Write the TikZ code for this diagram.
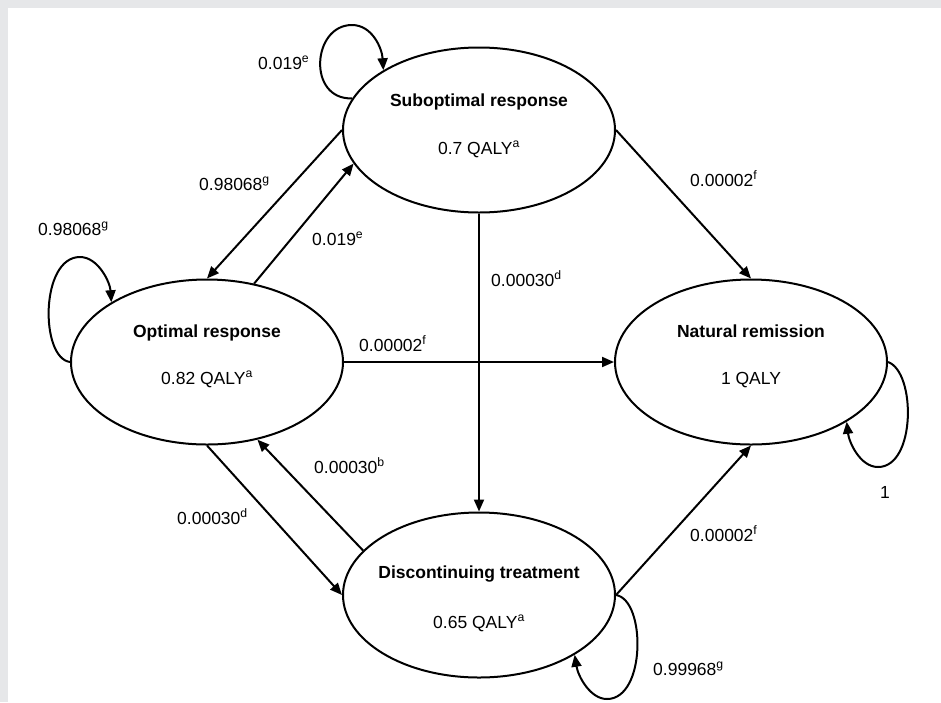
\documentclass[tikz,border=0pt]{standalone}
\usepackage{fontspec}
\setmainfont{Liberation Sans}
\usetikzlibrary{shapes.geometric,arrows.meta}
\definecolor{framegray}{RGB}{230,231,233}
\begin{document}
\begin{tikzpicture}[x=1pt,y=-1pt,
  state/.style={draw=black,line width=2pt,ellipse,minimum width=272pt,minimum height=165pt,inner sep=0pt},
  ttl/.style={font=\fontsize{17.5}{20}\selectfont\bfseries,anchor=base,inner sep=0pt},
  val/.style={font=\fontsize{17.5}{20}\selectfont,anchor=base,inner sep=0pt},
  lbl/.style={font=\fontsize{17.5}{20}\selectfont,anchor=base west,inner sep=0pt},
  conn/.style={line width=2pt,-{Triangle[length=12pt,width=10pt]}}]
\useasboundingbox (0,0) rectangle (941,702);
\fill[framegray] (0,0) rectangle (941,702);
\fill[white] (8,8) rectangle (941,702);
% states
\node[state] (sub) at (479,130) {};
\node[state] (opt) at (207,362) {};
\node[state] (nat) at (751,362) {};
\node[state] (dis) at (479,595) {};
% state texts
\node[ttl] (subT) at (479,106) {Suboptimal response};
\node[val] (subV) at (479,154) {0.7 QALY\textsuperscript{a}};
\node[ttl] (optT) at (207,337) {Optimal response};
\node[val] (optV) at (207,384) {0.82 QALY\textsuperscript{a}};
\node[ttl] (natT) at (751,337) {Natural remission};
\node[val] (natV) at (751,384) {1 QALY};
\node[ttl] (disT) at (479,578) {Discontinuing treatment};
\node[val] (disV) at (479,628) {0.65 QALY\textsuperscript{a}};
% straight connectors
\draw[conn] (sub.west) -- (opt.north);
\draw[conn] (opt.59) -- (sub.195.6);
\draw[conn] (sub.east) -- (nat.north);
\draw[conn] (sub.south) -- (dis.north);
\draw[conn] (opt.east) -- (nat.west);
\draw[conn] (opt.south) -- (dis.west);
\draw[conn] (dis.159.8) -- (opt.303.3);
\draw[conn] (dis.east) -- (nat.south);
% self loops
\draw[conn] (sub.166.8) .. controls (307,100) and (312,25) .. (352,25)
  .. controls (372,25) and (382,48) .. (sub.148);
\draw[conn] (opt.west) .. controls (40,358) and (40,257) .. (80,257)
  .. controls (98,257) and (110,282) .. (opt.148);
\draw[conn] (nat.east) .. controls (916,372) and (916,467) .. (878,467)
  .. controls (860,467) and (849,442) .. (nat.-32);
\draw[conn] (dis.east) .. controls (646,600) and (646,699) .. (607,699)
  .. controls (590,699) and (578,676) .. (dis.-32);
% labels
\node[lbl] (l1) at (258,69) {0.019\textsuperscript{e}};
\node[lbl] (l2) at (199,190) {0.98068\textsuperscript{g}};
\node[lbl] (l3) at (38,235) {0.98068\textsuperscript{g}};
\node[lbl] (l4) at (312,245) {0.019\textsuperscript{e}};
\node[lbl] (l5) at (690,186) {0.00002\textsuperscript{f}};
\node[lbl] (l6) at (491,286) {0.00030\textsuperscript{d}};
\node[lbl] (l7) at (359,351) {0.00002\textsuperscript{f}};
\node[lbl] (l8) at (314,473) {0.00030\textsuperscript{b}};
\node[lbl] (l9) at (177,524) {0.00030\textsuperscript{d}};
\node[lbl] (l10) at (690,541) {0.00002\textsuperscript{f}};
\node[lbl] (l11) at (880,498) {1};
\node[lbl] (l12) at (653,675) {0.99968\textsuperscript{g}};
\end{tikzpicture}
\end{document}
